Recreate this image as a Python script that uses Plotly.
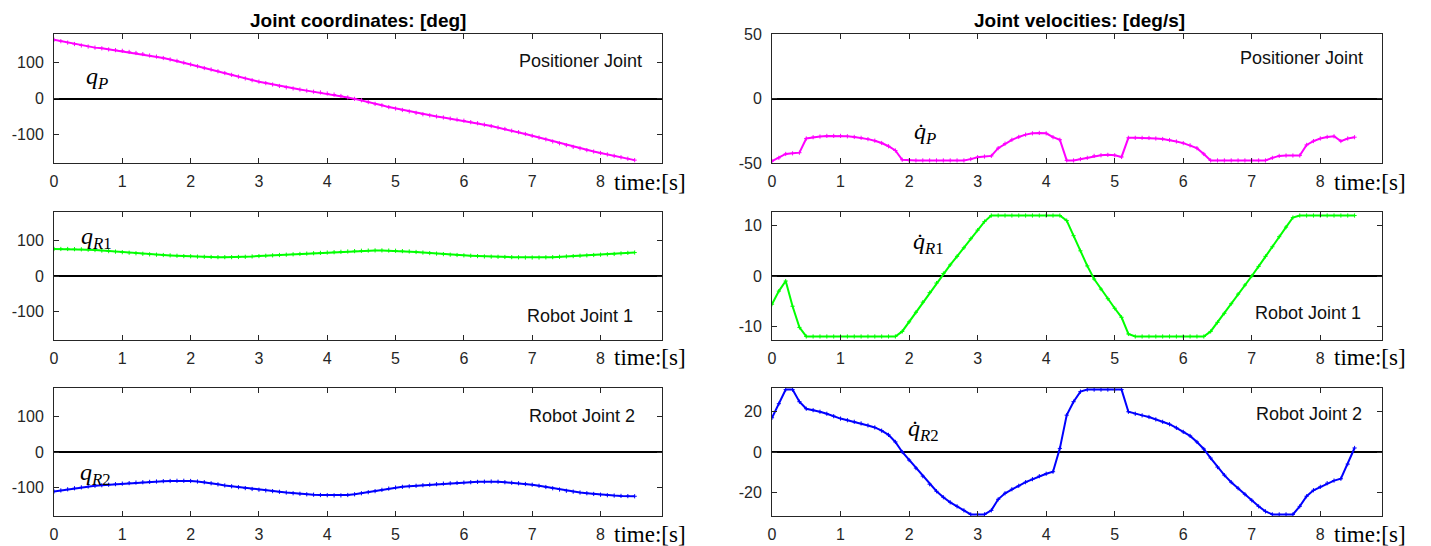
import plotly.graph_objects as go
from plotly.subplots import make_subplots

W, H = 1431, 546

# sample times [s]
t = [round(i * 0.1, 1) for i in range(86)]

# Joint coordinates [deg]
q_P = [164, 160, 156, 152, 148, 145, 142, 140, 137, 135,
       133, 130, 127, 124, 120, 117, 113, 109, 105, 100,
       95, 90, 85, 81, 76, 71, 66, 61, 56, 51,
       47, 43, 39, 35, 31, 28, 25, 22, 19, 17,
       14, 11, 7, 3, -1, -5, -10, -15, -19, -24,
       -28, -32, -36, -40, -44, -47, -50, -53, -56, -59,
       -62, -66, -69, -73, -77, -81, -85, -90, -94, -99,
       -104, -109, -114, -120, -125, -130, -135, -139, -144, -148,
       -152, -156, -160, -164, -168, -172]
q_R1 = [76, 76, 76, 75.5, 75, 74, 73, 71.5, 70, 68.5,
        67, 65.5, 64, 62.5, 61, 60, 59, 58, 57, 56,
        55.5, 54.5, 54, 53.5, 53, 53, 53, 53.5, 54, 55,
        56, 57, 58, 59, 60, 61, 62, 63, 64, 65,
        66, 67, 68, 69, 70, 71, 71.5, 72, 72, 71.5,
        71, 70, 69, 67.5, 66, 64.5, 63, 61.5, 60, 59,
        58, 57, 56, 55, 54.5, 54, 53.5, 53, 52.5, 52,
        52, 52, 52.5, 53, 54, 55, 56, 57, 58, 59,
        60, 61, 62, 63.5, 65, 66]
q_R2 = [-111, -108, -105, -102, -99.5, -97, -95, -93.5, -92, -90.5,
        -89, -87.5, -86, -85, -84, -83, -82, -81.5, -81, -81,
        -81.5, -83, -85, -88, -91, -94, -96.5, -99, -101.5, -104,
        -106, -108, -110, -112, -114, -116, -117.5, -119, -120, -121,
        -121.5, -122, -122, -121, -119, -116, -113, -110, -106.5, -103,
        -100, -98, -96.5, -95, -93.5, -92, -90.5, -89, -88, -87,
        -86, -85, -84, -83.5, -83, -83.5, -85, -86.5, -88, -90,
        -92, -95, -98.5, -102, -105.5, -109, -111.5, -114, -116, -118,
        -120, -121.5, -122.5, -123.5, -124, -124.5]

# Joint velocities [deg/s]
dq_P = [-48.5, -46, -43, -42.5, -42, -31, -30, -29.5, -29, -29,
        -29, -29.3, -29.8, -30.5, -31.5, -32.7, -34.5, -37, -40.3, -47.5,
        -48, -48, -48, -48, -48, -48, -48, -48, -48, -47,
        -45.5, -45, -44.5, -38.5, -35, -32, -29.8, -28, -27, -26.7,
        -27, -30, -32, -48, -48, -47, -46, -44.5, -44, -43.7,
        -44, -45.3, -30.5, -30.5, -30.5, -30.6, -31, -31.4, -32.2, -33.3,
        -34.6, -36.3, -38.5, -43, -48, -48, -48, -48, -48, -48,
        -48, -48, -48, -46, -44.5, -44.2, -44.2, -44.2, -36, -33,
        -31, -29.8, -29.3, -33, -31, -30]
dq_R1 = [-5.6, -3, -1, -6, -10.2, -12, -12, -12, -12, -12,
         -12, -12, -12, -12, -12, -12, -12, -12, -12, -11,
         -9.1, -7.2, -5.2, -3.3, -1.4, 0.5, 2.2, 3.9, 5.6, 7.4,
         9.1, 10.8, 12, 12, 12, 12, 12, 12, 12, 12,
         12, 12, 12, 11, 8, 5, 2, -0.6, -2.6, -4.5,
         -6.4, -8.2, -11.5, -12, -12, -12, -12, -12, -12, -12,
         -12, -12, -12, -12, -11, -9.2, -7.4, -5.5, -3.6, -1.8,
         0, 1.9, 3.9, 5.8, 7.8, 9.7, 11.6, 12, 12, 12,
         12, 12, 12, 12, 12, 12]
dq_R2 = [17, 24, 31, 31, 25, 21.5, 20.8, 20, 19, 17.8,
         16.6, 15.8, 15, 14.2, 13.2, 12.2, 10.6, 8.5, 5, 0,
         -4, -8, -12, -16, -19.5, -22.5, -25, -27, -29, -31,
         -31, -31, -29, -23.5, -20.5, -18.5, -16.8, -15, -13.5, -12,
         -10.8, -9.8, 1.8, 18.3, 25, 30, 31, 31, 31, 31,
         31, 31, 20, 19, 18.2, 17.4, 16.2, 15, 13.8, 12,
         10, 8, 5, 1.5, -3, -7.5, -11.5, -15, -18, -21,
         -24, -27, -29.5, -31, -31, -31, -31, -27, -22, -19,
         -17.3, -15.5, -14.2, -13.3, -6, 2]

x_ticks = [0, 1, 2, 3, 4, 5, 6, 7, 8]
left_yticks = [-100, 0, 100]
yticks_vel = [[-50, 0, 50], [-10, 0, 10], [-20, 0, 20]]
y_ranges_left = [[-180, 180]] * 3
y_ranges_right = [[-50, 50], [-12.7, 12.7], [-31.8, 31.8]]

MAGENTA, GREEN, BLUE = "#ff00ff", "#00ff00", "#0000ff"
AX = "#262626"

fig = make_subplots(rows=3, cols=2)

series = [(1, 1, q_P, MAGENTA), (2, 1, q_R1, GREEN), (3, 1, q_R2, BLUE),
          (1, 2, dq_P, MAGENTA), (2, 2, dq_R1, GREEN), (3, 2, dq_R2, BLUE)]
for r, c, y, col in series:
    fig.add_trace(go.Scatter(x=t, y=y, mode="lines+markers",
                             line=dict(color=col, width=2),
                             marker=dict(color=col, size=3, symbol="cross-thin",
                                         line=dict(color=col, width=1)),
                             showlegend=False, hoverinfo="skip"), row=r, col=c)

# page body margin offset (browser default 8px)
OFF = 8
# plot area in reference pixels
L, R, T, B = 54, 1382, 34, 516
PW, PH = R - L, B - T

def px(x):
    return (x - L) / PW

def py(y):
    return 1 - (y - T) / PH

xdom = {1: [px(54), px(662)], 2: [px(772), px(1382)]}
ydom = {1: [py(163), py(34)], 2: [py(340), py(212)], 3: [py(516), py(388)]}

def lab(v):
    return str(v)

tickfont = dict(family="Liberation Sans, Arial", size=16, color=AX)
for r in (1, 2, 3):
    for c in (1, 2):
        fig.update_xaxes(row=r, col=c, domain=[max(0, xdom[c][0]), min(1, xdom[c][1])],
                         range=[0, 8.9], automargin=False,
                         tickvals=x_ticks, ticktext=[lab(v) for v in x_ticks],
                         ticks="inside", ticklen=5, tickcolor=AX,
                         showline=True, linecolor=AX, linewidth=1, mirror="ticks",
                         showgrid=False, zeroline=False, tickfont=tickfont,
                         ticklabelstandoff=4)
        yr = y_ranges_left[r - 1] if c == 1 else y_ranges_right[r - 1]
        yt = left_yticks if c == 1 else yticks_vel[r - 1]
        fig.update_yaxes(row=r, col=c, domain=[max(0, ydom[r][0]), min(1, ydom[r][1])],
                         range=yr, automargin=False,
                         tickvals=yt, ticktext=[lab(v) for v in yt],
                         ticks="inside", ticklen=5, tickcolor=AX,
                         showline=True, linecolor=AX, linewidth=1, mirror="ticks",
                         showgrid=False, zeroline=True, zerolinecolor="#000000",
                         zerolinewidth=1.5, tickfont=tickfont, ticklabelstandoff=6)

ann = []
def add(text, x, y, size, family, xanchor="center", color="#000000"):
    ann.append(dict(text=text, x=px(x), y=py(y), xref="paper", yref="paper",
                    showarrow=False, xanchor=xanchor, yanchor="middle",
                    font=dict(size=size, family=family, color=color)))

SANS = "Liberation Sans, Arial"
SERIF = "Liberation Serif, DejaVu Serif, serif"

add("<b>Joint coordinates: [deg]</b>", 358, 20, 19, SANS)
add("<b>Joint velocities: [deg/s]</b>", 1079, 20, 19, SANS)

for x0 in (612, 1332):
    for yb in (182, 357, 534):
        add("time:[s]", x0, yb, 23, SERIF, xanchor="left")

add("Positioner Joint", 580, 61, 18, SANS, color="#111111")
add("Robot Joint 1", 580, 316, 18, SANS, color="#111111")
add("Robot Joint 2", 582, 416, 18, SANS, color="#111111")
add("Positioner Joint", 1301, 58, 18, SANS, color="#111111")
add("Robot Joint 1", 1308, 313, 18, SANS, color="#111111")
add("Robot Joint 2", 1309, 414, 18, SANS, color="#111111")

add("<i>q</i><sub><i>P</i></sub>", 97, 78, 24, SERIF)
add("<i>q</i><sub><i>R</i>1</sub>", 96, 238, 24, SERIF)
add("<i>q</i><sub><i>R</i>2</sub>", 95, 474, 24, SERIF)
add("<i>q\u0307</i><sub><i>P</i></sub>", 925, 133, 24, SERIF)
add("<i>q\u0307</i><sub><i>R</i>1</sub>", 928, 243, 24, SERIF)
add("<i>q\u0307</i><sub><i>R</i>2</sub>", 923, 430, 24, SERIF)

fig.update_layout(width=W, height=H,
                  margin=dict(l=L - OFF, r=W - R + OFF, t=T - OFF, b=H - B + OFF),
                  paper_bgcolor="white", plot_bgcolor="white",
                  annotations=ann, showlegend=False)

fig.write_html("out.html")
